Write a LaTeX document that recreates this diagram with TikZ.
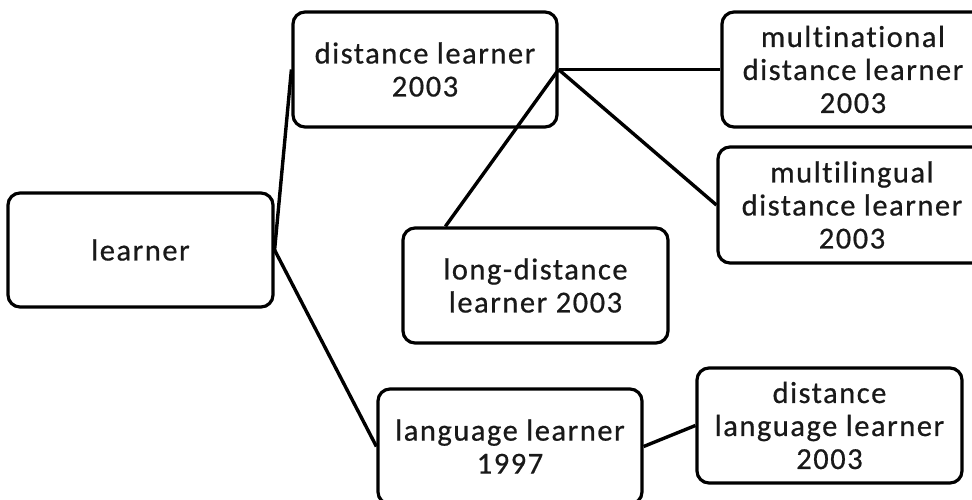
\documentclass[tikz,border=0pt]{standalone}
\usepackage{fontspec}
\setmainfont{Carlito}[LetterSpace=5.0, FakeBold=0.6, Ligatures=NoCommon, RawFeature=-liga]
\begin{document}
\begin{tikzpicture}[x=1pt,y=-1pt,
  box/.style={draw=black, line width=3.2pt, rounded corners=12pt, fill=white,
    align=center, inner sep=0pt, text=black!90,
    font=\fontsize{30.5}{33}\selectfont},
  link/.style={draw=black, line width=3.4pt}]
\clip (0,0) rectangle (972,499);
\fill[white] (0,0) rectangle (972,499);
\node[box, minimum width=265pt, minimum height=114pt] (learner) at (140.5,250) {learner};
\node[box, minimum width=264pt, minimum height=115pt] (dl) at (425,69.5) {distance learner\\2003};
\node[box, minimum width=262pt, minimum height=115pt] (mn) at (853,69.5) {multinational\\distance learner\\2003};
\node[box, minimum width=268pt, minimum height=116pt] (ml) at (852,205) {multilingual\\distance learner\\2003};
\node[box, minimum width=265pt, minimum height=115pt] (ld) at (535.5,285.5) {long-distance\\learner 2003};
\node[box, minimum width=264pt, minimum height=115pt] (ll) at (510,446.5) {language learner\\1997};
\node[box, minimum width=265pt, minimum height=115pt] (dll) at (829.5,425.5) {distance\\language learner\\2003};
\draw[link] (learner.east) -- (dl.west);
\draw[link] (learner.east) -- (ll.west);
\draw[link] (dl.east) -- (mn.west);
\draw[link] (dl.east) -- (ml.west);
\draw[link] (dl.east) -- ([xshift=44pt]ld.north west);
\draw[link] (ll.east) -- (dll.west);
\end{tikzpicture}
\end{document}
